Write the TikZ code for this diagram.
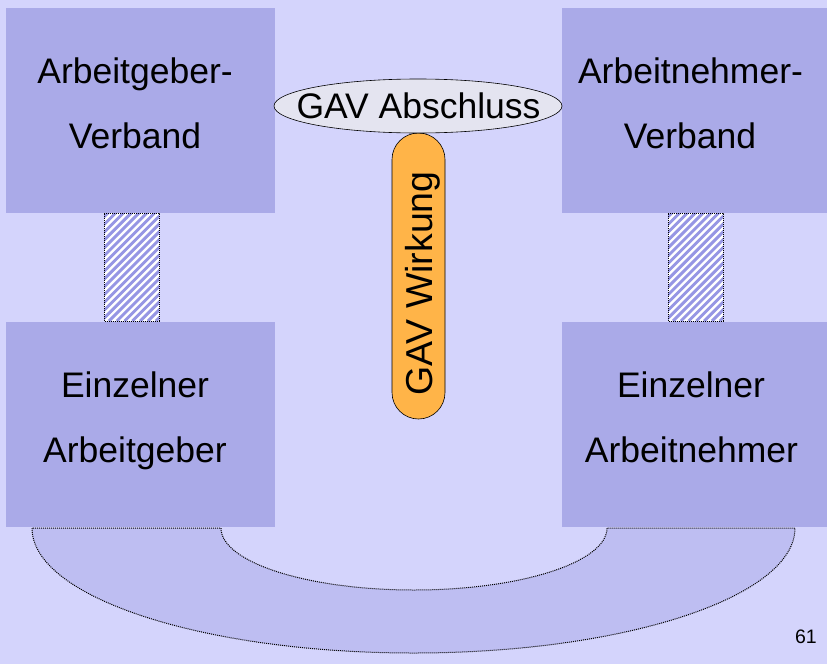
\documentclass[tikz,border=0pt]{standalone}
\usepackage{fontspec}
\setmainfont{Liberation Sans}
\usetikzlibrary{shapes.geometric}
\definecolor{bgc}{RGB}{212,212,252}
\definecolor{boxc}{RGB}{170,170,232}
\definecolor{ellc}{RGB}{228,228,240}
\definecolor{orc}{RGB}{255,180,72}
\definecolor{stripec}{RGB}{150,150,228}
\definecolor{arcc}{RGB}{190,190,242}
\tikzset{
  bigbox/.style={fill=boxc, draw=none, minimum width=269pt, minimum height=205pt, inner sep=0pt, outer sep=0pt},
  hatchbox/.style={fill=white, minimum width=55pt, minimum height=108pt, inner sep=0pt, outer sep=0pt},
  dotline/.style={draw=black, dash pattern=on 1pt off 1pt, line width=1pt},
  stripe/.style={draw=stripec, line width=2.9pt},
  lbl/.style={font=\fontsize{35.5}{40}\selectfont, inner sep=0pt, anchor=base},
  pill/.style={fill=orc, draw=black, line width=0.6pt, rounded corners=26.5pt, minimum width=53pt, minimum height=286pt, inner sep=0pt},
  oval/.style={ellipse, fill=ellc, draw=black, line width=0.6pt, minimum width=288pt, minimum height=54pt, inner sep=0pt},
  arcshape/.style={fill=arcc, dotline}
}
\begin{document}
\begin{tikzpicture}[x=1pt,y=-1pt]
\fill[bgc] (0,0) rectangle (827,664);
\useasboundingbox (0,0) rectangle (827,664);

% boxes
\node[bigbox] (agv) at (140.5,110.5) {};
\node[bigbox] (anv) at (696.5,110.5) {};
\node[bigbox] (eag) at (140.5,424) {};
\node[bigbox] (ean) at (696.5,424) {};

% hatched links
\foreach \h/\xc in {hl/131.5, hr/695.5} {
  \node[hatchbox] (\h) at (\xc,267) {};
  \begin{scope}
    \clip (\h.south west) rectangle (\h.north east);
    \foreach \k in {0,...,24}
      \draw[stripe] ([xshift=\k*7.8pt-112pt]\h.south west) -- ++(130,-130);
  \end{scope}
  \draw[dotline] (\h.south west) rectangle (\h.north east);
}

% bottom arc
\coordinate (ol) at (32,528);
\coordinate (ir) at (607,528);
\draw[arcshape] (ol) arc[start angle=180, end angle=0, x radius=381.5, y radius=125]
   -- (ir) arc[start angle=0, end angle=180, x radius=193, y radius=62] -- cycle;

% labels in boxes
\node[lbl] (t1) at (135,83) {Arbeitgeber-};
\node[lbl] (t2) at (135,148) {Verband};
\node[lbl] (t3) at (690.5,83) {Arbeitnehmer-};
\node[lbl] (t4) at (690,148) {Verband};
\node[lbl] (t5) at (135,397) {Einzelner};
\node[lbl] (t6) at (135,462) {Arbeitgeber};
\node[lbl] (t7) at (691,397) {Einzelner};
\node[lbl] (t8) at (691.5,462) {Arbeitnehmer};

% GAV Wirkung
\node[pill] (wirk) at (418.5,276) {};
\node[rotate=90, anchor=base, inner sep=0pt, font=\fontsize{37.5}{40}\selectfont] (wirkt) at (432,283.5) {GAV Wirkung};

% GAV Abschluss
\node[oval] (absch) at (418,106) {};
\node[lbl] (abscht) at (418.5,118.5) {GAV Abschluss};

% page number
\node[anchor=base east, inner sep=0pt, font=\fontsize{19.5}{22}\selectfont] (pn) at (817,643) {61};
\end{tikzpicture}
\end{document}
